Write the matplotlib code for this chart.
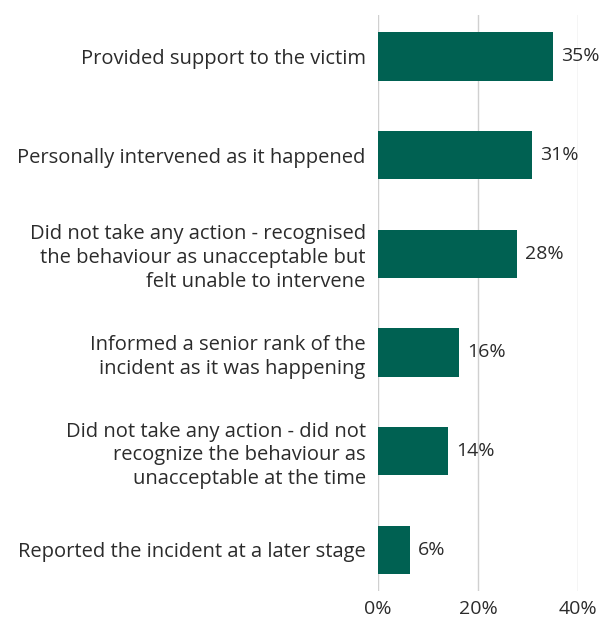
import matplotlib
matplotlib.use("Agg")
import matplotlib.pyplot as plt

# data (top to bottom)
categories = [
    "Provided support to the victim",
    "Personally intervened as it happened",
    "Did not take any action - recognised\nthe behaviour as unacceptable but\nfelt unable to intervene",
    "Informed a senior rank of the\nincident as it was happening",
    "Did not take any action - did not\nrecognize the behaviour as\nunacceptable at the time",
    "Reported the incident at a later stage",
]
values = [35.0, 30.7, 27.7, 16.2, 13.9, 6.3]
xticks = [0, 20, 40]

plt.rcParams["font.family"] = ["Open Sans", "DejaVu Sans"]

fig = plt.figure(figsize=(6.06, 6.21), dpi=100)
ax = fig.add_axes([0.624, 0.048, 0.330, 0.928])

pos = list(range(len(categories)))
ax.barh(pos, values, height=0.49, color="#006152", zorder=3)
for p, v in zip(pos, values):
    ax.annotate(f"{round(v)}%", (v, p), xytext=(6, 0), textcoords="offset points",
                va="center", ha="left", fontsize=14, color="#2b2b2b", zorder=4)

ax.set_xlim(0, 40)
ax.set_ylim(len(categories) - 0.58, -0.42)
ax.set_xticks(xticks)
ax.set_xticklabels([f"{t}%" for t in xticks])
ax.set_yticks(pos)
ax.set_yticklabels(categories, fontsize=14.5, color="#2b2b2b", linespacing=1.25)
ax.tick_params(axis="both", length=0, colors="#2b2b2b", labelsize=14)
ax.tick_params(axis="y", pad=9, labelsize=14.5)
ax.tick_params(axis="x", pad=6)
ax.xaxis.grid(True, color="#d0d0d0", linewidth=1.0, zorder=0)
for s in ax.spines.values():
    s.set_visible(False)

fig.savefig("out.png", dpi=100)
